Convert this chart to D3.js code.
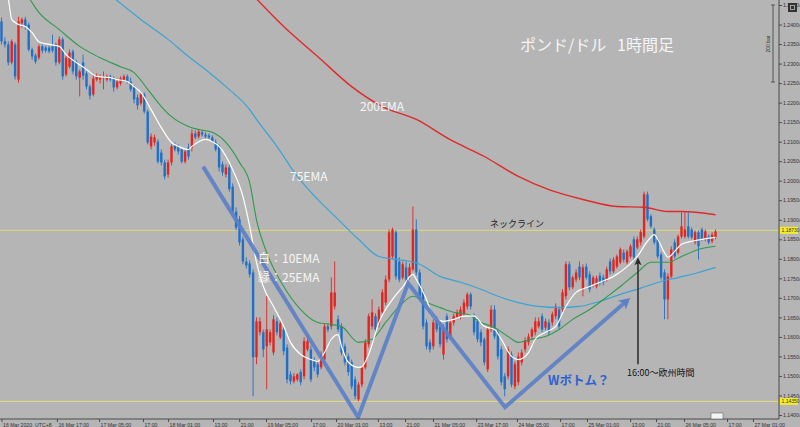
<!DOCTYPE html>
<html>
<head>
<meta charset="utf-8">
<script src="https://cdn.jsdelivr.net/npm/d3@7"></script>
<style>
  body { margin: 0; background: #b5b5b5; }
  svg { display: block; }
</style>
</head>
<body>
<div id="chart"></div>
<script>
// GBP/USD hourly candles, one row per bar: [open, high, low, close]
const candles = [
  [1.2408,1.2418,1.2349,1.2357],[1.2357,1.2367,1.2341,1.2349],[1.2349,1.2357,1.2295,1.2303],[1.2303,1.2362,1.2298,1.2357],
  [1.2349,1.2354,1.2259,1.2267],[1.2259,1.2420,1.2251,1.2408],[1.2403,1.2418,1.2392,1.2413],[1.2413,1.2420,1.2387,1.2395],
  [1.2400,1.2405,1.2331,1.2336],[1.2336,1.2341,1.2310,1.2318],[1.2321,1.2326,1.2300,1.2305],[1.2315,1.2349,1.2310,1.2344],
  [1.2344,1.2349,1.2326,1.2333],[1.2341,1.2346,1.2328,1.2333],[1.2341,1.2346,1.2326,1.2331],[1.2344,1.2374,1.2328,1.2333],
  [1.2349,1.2354,1.2295,1.2303],[1.2303,1.2369,1.2298,1.2362],[1.2362,1.2367,1.2259,1.2267],[1.2272,1.2321,1.2267,1.2315],
  [1.2292,1.2336,1.2287,1.2328],[1.2331,1.2336,1.2272,1.2280],[1.2305,1.2310,1.2259,1.2267],[1.2264,1.2285,1.2216,1.2280],
  [1.2303,1.2323,1.2259,1.2269],[1.2275,1.2280,1.2234,1.2241],[1.2241,1.2246,1.2208,1.2218],[1.2221,1.2269,1.2216,1.2262],
  [1.2259,1.2275,1.2254,1.2269],[1.2259,1.2272,1.2249,1.2264],[1.2264,1.2280,1.2234,1.2267],[1.2259,1.2272,1.2254,1.2267],
  [1.2267,1.2272,1.2254,1.2259],[1.2262,1.2267,1.2228,1.2239],[1.2239,1.2262,1.2234,1.2254],[1.2249,1.2267,1.2244,1.2262],
  [1.2259,1.2272,1.2254,1.2267],[1.2267,1.2272,1.2249,1.2254],[1.2254,1.2264,1.2228,1.2234],[1.2239,1.2244,1.2198,1.2208],
  [1.2213,1.2221,1.2182,1.2193],[1.2198,1.2228,1.2193,1.2221],[1.2221,1.2226,1.2172,1.2177],[1.2177,1.2182,1.2093,1.2098],
  [1.2088,1.2121,1.2080,1.2113],[1.2098,1.2118,1.2090,1.2111],[1.2100,1.2106,1.2044,1.2049],[1.2072,1.2080,1.2039,1.2047],
  [1.2047,1.2054,1.2003,1.2011],[1.2016,1.2054,1.2008,1.2047],[1.2047,1.2093,1.2039,1.2088],[1.2090,1.2098,1.2075,1.2080],
  [1.2088,1.2093,1.2067,1.2075],[1.2080,1.2085,1.2044,1.2049],[1.2049,1.2080,1.2044,1.2075],[1.2085,1.2095,1.2054,1.2062],
  [1.2085,1.2131,1.2075,1.2121],[1.2121,1.2129,1.2106,1.2111],[1.2113,1.2131,1.2108,1.2126],[1.2124,1.2129,1.2113,1.2118],
  [1.2118,1.2124,1.2108,1.2113],[1.2116,1.2121,1.2106,1.2111],[1.2111,1.2116,1.2098,1.2100],[1.2098,1.2106,1.2075,1.2080],
  [1.2088,1.2093,1.2024,1.2034],[1.2042,1.2049,1.2013,1.2021],[1.2016,1.2042,1.2008,1.2034],[1.2034,1.2042,1.1972,1.1978],
  [1.1985,1.1993,1.1916,1.1921],[1.1921,1.1932,1.1873,1.1880],[1.1901,1.1909,1.1834,1.1842],[1.1850,1.1857,1.1786,1.1793],
  [1.1793,1.1804,1.1775,1.1783],[1.1788,1.1796,1.1752,1.1760],[1.1765,1.1773,1.1448,1.1548],[1.1548,1.1650,1.1530,1.1640],
  [1.1612,1.1650,1.1604,1.1640],[1.1612,1.1619,1.1548,1.1568],[1.1576,1.1704,1.1466,1.1619],[1.1586,1.1619,1.1578,1.1612],
  [1.1560,1.1655,1.1553,1.1645],[1.1640,1.1650,1.1604,1.1612],[1.1599,1.1645,1.1594,1.1635],[1.1619,1.1627,1.1553,1.1563],
  [1.1573,1.1581,1.1481,1.1491],[1.1504,1.1512,1.1478,1.1486],[1.1486,1.1507,1.1481,1.1499],[1.1491,1.1507,1.1486,1.1504],
  [1.1510,1.1517,1.1476,1.1484],[1.1499,1.1599,1.1491,1.1589],[1.1568,1.1604,1.1563,1.1589],[1.1568,1.1578,1.1484,1.1491],
  [1.1537,1.1548,1.1512,1.1522],[1.1530,1.1537,1.1496,1.1504],[1.1522,1.1563,1.1517,1.1555],[1.1542,1.1635,1.1537,1.1627],
  [1.1627,1.1635,1.1612,1.1619],[1.1627,1.1752,1.1619,1.1714],[1.1678,1.1793,1.1670,1.1714],[1.1645,1.1655,1.1612,1.1619],
  [1.1627,1.1635,1.1553,1.1560],[1.1576,1.1583,1.1527,1.1535],[1.1550,1.1558,1.1501,1.1510],[1.1535,1.1542,1.1466,1.1473],
  [1.1491,1.1499,1.1440,1.1448],[1.1440,1.1484,1.1435,1.1478],[1.1478,1.1527,1.1471,1.1522],[1.1522,1.1594,1.1517,1.1586],
  [1.1581,1.1660,1.1573,1.1653],[1.1627,1.1696,1.1619,1.1663],[1.1653,1.1660,1.1612,1.1619],[1.1632,1.1678,1.1624,1.1670],
  [1.1663,1.1722,1.1655,1.1714],[1.1688,1.1757,1.1681,1.1747],[1.1747,1.1875,1.1740,1.1868],[1.1806,1.1880,1.1798,1.1875],
  [1.1868,1.1873,1.1747,1.1755],[1.1793,1.1804,1.1740,1.1747],[1.1752,1.1793,1.1747,1.1786],[1.1778,1.1793,1.1740,1.1747],
  [1.1755,1.1788,1.1747,1.1778],[1.1773,1.1934,1.1768,1.1875],[1.1875,1.1901,1.1757,1.1765],[1.1765,1.1773,1.1696,1.1704],
  [1.1714,1.1722,1.1619,1.1627],[1.1637,1.1645,1.1568,1.1576],[1.1586,1.1594,1.1560,1.1568],[1.1576,1.1645,1.1568,1.1637],
  [1.1645,1.1653,1.1612,1.1619],[1.1627,1.1640,1.1573,1.1581],[1.1555,1.1632,1.1542,1.1619],[1.1653,1.1660,1.1586,1.1594],
  [1.1601,1.1645,1.1594,1.1637],[1.1637,1.1660,1.1629,1.1653],[1.1650,1.1670,1.1645,1.1663],[1.1650,1.1678,1.1645,1.1670],
  [1.1658,1.1696,1.1653,1.1688],[1.1678,1.1714,1.1670,1.1709],[1.1709,1.1714,1.1670,1.1678],[1.1653,1.1660,1.1604,1.1612],
  [1.1640,1.1645,1.1586,1.1594],[1.1612,1.1619,1.1576,1.1586],[1.1594,1.1599,1.1527,1.1535],[1.1517,1.1627,1.1510,1.1619],
  [1.1619,1.1681,1.1612,1.1670],[1.1670,1.1681,1.1594,1.1601],[1.1612,1.1619,1.1542,1.1550],[1.1568,1.1576,1.1476,1.1484],
  [1.1499,1.1507,1.1448,1.1466],[1.1499,1.1576,1.1491,1.1568],[1.1555,1.1563,1.1471,1.1478],[1.1473,1.1537,1.1466,1.1530],
  [1.1484,1.1560,1.1476,1.1550],[1.1535,1.1568,1.1527,1.1560],[1.1568,1.1599,1.1560,1.1591],[1.1586,1.1609,1.1578,1.1601],
  [1.1601,1.1624,1.1594,1.1619],[1.1612,1.1650,1.1604,1.1640],[1.1627,1.1650,1.1622,1.1640],[1.1653,1.1660,1.1612,1.1619],
  [1.1624,1.1647,1.1617,1.1640],[1.1637,1.1645,1.1604,1.1612],[1.1637,1.1665,1.1629,1.1658],[1.1653,1.1686,1.1645,1.1678],
  [1.1670,1.1678,1.1619,1.1627],[1.1670,1.1722,1.1663,1.1714],[1.1704,1.1793,1.1696,1.1786],[1.1786,1.1793,1.1719,1.1727],
  [1.1727,1.1757,1.1722,1.1752],[1.1747,1.1773,1.1740,1.1765],[1.1780,1.1793,1.1745,1.1752],[1.1722,1.1786,1.1704,1.1778],
  [1.1780,1.1788,1.1747,1.1752],[1.1760,1.1768,1.1714,1.1722],[1.1732,1.1757,1.1727,1.1752],[1.1729,1.1757,1.1724,1.1750],
  [1.1757,1.1765,1.1732,1.1740],[1.1752,1.1760,1.1732,1.1740],[1.1747,1.1780,1.1742,1.1773],[1.1793,1.1801,1.1760,1.1768],
  [1.1768,1.1804,1.1763,1.1798],[1.1780,1.1811,1.1775,1.1806],[1.1791,1.1829,1.1786,1.1824],[1.1816,1.1824,1.1791,1.1798],
  [1.1791,1.1824,1.1786,1.1819],[1.1806,1.1837,1.1801,1.1832],[1.1850,1.1857,1.1793,1.1804],[1.1829,1.1857,1.1824,1.1850],
  [1.1842,1.1875,1.1834,1.1868],[1.1857,1.1972,1.1852,1.1965],[1.1965,1.1972,1.1896,1.1901],[1.1909,1.1914,1.1878,1.1883],
  [1.1875,1.1880,1.1837,1.1842],[1.1850,1.1855,1.1801,1.1806],[1.1811,1.1816,1.1747,1.1752],[1.1765,1.1773,1.1645,1.1696],
  [1.1696,1.1763,1.1645,1.1755],[1.1755,1.1832,1.1750,1.1824],[1.1842,1.1850,1.1801,1.1806],[1.1816,1.1862,1.1811,1.1857],
  [1.1857,1.1919,1.1852,1.1883],[1.1857,1.1919,1.1852,1.1875],[1.1883,1.1919,1.1852,1.1857],[1.1875,1.1880,1.1850,1.1855],
  [1.1842,1.1873,1.1837,1.1868],[1.1868,1.1873,1.1798,1.1832],[1.1875,1.1880,1.1845,1.1850],[1.1850,1.1875,1.1845,1.1870],
  [1.1857,1.1862,1.1837,1.1842],[1.1845,1.1868,1.1840,1.1862],[1.1855,1.1875,1.1850,1.1870]
];

// moving averages: [bar, price]
const ema10 = [[0,1.2490],[2,1.2464],[3,1.2413],[5,1.2400],[7,1.2395],[9,1.2379],[11,1.2356],[14,1.2349],[17,1.2344],
  [19,1.2323],[22,1.2303],[25,1.2285],[28,1.2267],[32,1.2264],[34,1.2259],[37,1.2254],[39,1.2241],[41,1.2226],[44,1.2182],
  [47,1.2136],[50,1.2098],[52,1.2088],[55,1.2080],[56,1.2088],[58,1.2100],[60,1.2106],[62,1.2100],[64,1.2088],[68,1.2028],
  [71,1.1960],[73,1.1883],[75,1.1791],[77,1.1729],[80,1.1678],[83,1.1627],[85,1.1586],[88,1.1555],[91,1.1542],[93,1.1537],
  [95,1.1560],[97,1.1594],[99,1.1606],[100,1.1576],[102,1.1535],[105,1.1522],[106,1.1524],[108,1.1555],[111,1.1637],
  [115,1.1696],[118,1.1728],[121,1.1760],[122,1.1747],[125,1.1696],[127,1.1653],[130,1.1640],[133,1.1645],[136,1.1653],
  [139,1.1653],[142,1.1627],[145,1.1619],[147,1.1594],[150,1.1550],[152,1.1542],[155,1.1560],[157,1.1594],[160,1.1612],
  [163,1.1627],[166,1.1678],[169,1.1714],[173,1.1729],[176,1.1740],[180,1.1755],[184,1.1780],[187,1.1806],[190,1.1845],
  [192,1.1862],[193,1.1850],[195,1.1816],[196,1.1804],[198,1.1819],[200,1.1837],[203,1.1845],[206,1.1850],[210,1.1855]];
const ema25 = [[7,1.2484],[11,1.2431],[17,1.2387],[23,1.2344],[29,1.2315],[35,1.2292],[39,1.2277],[43,1.2234],[47,1.2190],
  [50,1.2164],[55,1.2139],[58,1.2131],[62,1.2124],[66,1.2098],[70,1.2047],[73,1.1995],[75,1.1900],[78,1.1816],[83,1.1729],
  [88,1.1670],[93,1.1637],[97,1.1632],[100,1.1627],[105,1.1586],[109,1.1594],[113,1.1637],[117,1.1678],[121,1.1704],
  [125,1.1688],[129,1.1675],[133,1.1663],[137,1.1658],[141,1.1637],[145,1.1624],[149,1.1601],[152,1.1586],[156,1.1594],
  [160,1.1601],[164,1.1619],[168,1.1645],[173,1.1670],[179,1.1709],[182,1.1729],[187,1.1765],[191,1.1791],[196,1.1791],
  [200,1.1806],[205,1.1824],[210,1.1832]];
const ema75 = [[30,1.2490],[41,1.2413],[49,1.2362],[55,1.2318],[60,1.2285],[66,1.2241],[73,1.2182],[75,1.2157],[81,1.2088],
  [87,1.2011],[93,1.1952],[99,1.1901],[105,1.1850],[111,1.1806],[117,1.1798],[123,1.1786],[129,1.1755],[135,1.1740],
  [141,1.1722],[146,1.1704],[152,1.1688],[158,1.1678],[164,1.1675],[170,1.1678],[176,1.1691],[182,1.1709],[188,1.1725],
  [194,1.1742],[199,1.1752],[205,1.1765],[210,1.1778]];
const ema200 = [[73,1.2484],[83,1.2395],[93,1.2318],[103,1.2241],[112,1.2190],[122,1.2157],[132,1.2105],[142,1.2062],
  [152,1.2011],[161,1.1977],[171,1.1952],[181,1.1934],[189,1.1932],[196,1.1921],[200,1.1921],[210,1.1913]];

// drawn annotations: W pattern path, neckline / support levels, 16:00 marker
const wPattern = [[59.3,1.2036],[104.9,1.1394],[119.6,1.1737],[148.1,1.1420],[184,1.1693]];
const neckline = 1.1873;
const support = 1.1435;
const europeOpen = [187.2, 1.1530, 1.1804];

const priceTicks = [1.1400,1.1450,1.1500,1.1550,1.1600,1.1650,1.1700,1.1750,1.1800,1.1850,1.1900,1.1950,
  1.2000,1.2050,1.2100,1.2150,1.2200,1.2250,1.2300,1.2350,1.2400,1.2450];
const timeLabels = [[0,'16 Mar 2020, UTC+8'],[16.3,'16 Mar 17:00'],[28.7,'17 Mar 05:00'],[41.6,'17:00'],[49,'18 Mar 01:00'],
  [62.2,'13:00'],[69.9,'21:00'],[77.8,'19 Mar 05:00'],[91,'17:00'],[98.4,'20 Mar 01:00'],[110.7,'13:00'],[118.7,'21:00'],
  [126.9,'21 Mar 05:00'],[139.6,'23 Mar 17:00'],[151.6,'24 Mar 05:00'],[164.3,'17:00'],[172.2,'25 Mar 01:00'],
  [184.9,'13:00'],[192.5,'21:00'],[200.7,'26 Mar 05:00'],[213.4,'17:00'],[221,'27 Mar 01:00']];

const width = 800, height = 427;
const plotRight = 779, plotBottom = 419;
const upColor = '#e3241f', downColor = '#1f6fc6';

const x = d3.scaleLinear().domain([0, 210]).range([1.5, 715.5]);
const y = d3.scaleLinear().domain([1.14, 1.245]).range([415, 5]);

const svg = d3.select('#chart').append('svg')
    .attr('width', width)
    .attr('height', height)
    .style('font-family', "'Noto Sans CJK JP', 'Noto Sans', sans-serif");

svg.append('rect').attr('width', width).attr('height', height).attr('fill', '#b5b5b5');

svg.append('defs').append('clipPath').attr('id', 'plot-clip')
  .append('rect').attr('width', plotRight).attr('height', plotBottom);

const plot = svg.append('g').attr('clip-path', 'url(#plot-clip)');

// horizontal levels
plot.selectAll('line.level')
  .data([neckline, support])
  .join('line')
    .attr('class', 'level')
    .attr('x1', 0).attr('x2', plotRight)
    .attr('y1', d => y(d)).attr('y2', d => y(d))
    .attr('stroke', '#e2dc78')
    .attr('stroke-width', 1);

// candles
const bodyWidth = 2.4;
const isUp = d => d[3] >= d[0];
const candleG = plot.append('g').attr('class', 'candles');

candleG.selectAll('line')
  .data(candles)
  .join('line')
    .attr('x1', (d, i) => x(i)).attr('x2', (d, i) => x(i))
    .attr('y1', d => y(d[1])).attr('y2', d => y(d[2]))
    .attr('stroke', d => isUp(d) ? upColor : downColor)
    .attr('stroke-width', 0.9);

candleG.selectAll('rect')
  .data(candles)
  .join('rect')
    .attr('x', (d, i) => x(i) - bodyWidth / 2)
    .attr('width', bodyWidth)
    .attr('y', d => y(Math.max(d[0], d[3])))
    .attr('height', d => Math.max(1, Math.abs(y(d[0]) - y(d[3]))))
    .attr('fill', d => isUp(d) ? upColor : downColor);

// moving averages
const emaLine = d3.line()
    .x(d => x(d[0]))
    .y(d => y(d[1]))
    .curve(d3.curveMonotoneX);

const emas = [
  { data: ema200, color: '#e02a2a', w: 1.4 },
  { data: ema75, color: '#3aa3d6', w: 1.2 },
  { data: ema25, color: '#2f9a4c', w: 1.1 },
  { data: ema10, color: '#ffffff', w: 1.2 }
];
plot.selectAll('path.ema')
  .data(emas)
  .join('path')
    .attr('class', 'ema')
    .attr('d', d => emaLine(d.data))
    .attr('fill', 'none')
    .attr('stroke', d => d.color)
    .attr('stroke-width', d => d.w);

// W pattern sketch
const wLine = d3.line().x(d => x(d[0])).y(d => y(d[1]));
plot.append('path')
    .attr('d', wLine(wPattern))
    .attr('fill', 'none')
    .attr('stroke', '#5a80c8')
    .attr('stroke-opacity', 0.9)
    .attr('stroke-width', 4)
    .attr('stroke-linejoin', 'miter');

// arrow head at the end of the W sketch
const last = wPattern[wPattern.length - 1], prev = wPattern[wPattern.length - 2];
const ang = Math.atan2(y(last[1]) - y(prev[1]), x(last[0]) - x(prev[0])) * 180 / Math.PI;
plot.append('path')
    .attr('d', 'M4,0 L-7,-6 L-4,0 L-7,6 Z')
    .attr('transform', `translate(${x(last[0])},${y(last[1])}) rotate(${ang})`)
    .attr('fill', '#5a80c8');

// 16:00 marker arrow
plot.append('line')
    .attr('x1', x(europeOpen[0])).attr('x2', x(europeOpen[0]))
    .attr('y1', y(europeOpen[1])).attr('y2', y(europeOpen[2]) + 3)
    .attr('stroke', '#2a2a2a')
    .attr('stroke-width', 1.5);
plot.append('path')
    .attr('d', 'M0,0 L-3.5,8 L0,6 L3.5,8 Z')
    .attr('transform', `translate(${x(europeOpen[0])},${y(europeOpen[2])})`)
    .attr('fill', '#2a2a2a');

// text annotations
const notes = [
  { t: 'ポンド/ドル\u00a0\u00a0\u00a01時間足', x: 520, y: 51, size: 16, fill: '#f6f6f6' },
  { t: '200EMA', x: 360, y: 111, size: 12, fill: '#f6f6f6' },
  { t: '75EMA', x: 290, y: 181, size: 12, fill: '#f6f6f6' },
  { t: '白：10EMA', x: 258, y: 263, size: 12, fill: '#f6f6f6' },
  { t: '緑：25EMA', x: 258, y: 282, size: 12, fill: '#f6f6f6' },
  { t: 'ネックライン', x: 490, y: 227, size: 9, fill: '#222' },
  { t: 'Wボトム？', x: 548, y: 385, size: 12.5, fill: '#2f62d0', weight: 'bold' },
  { t: '16:00～欧州時間', x: 627, y: 376, size: 9, fill: '#111' }
];
svg.selectAll('text.note')
  .data(notes)
  .join('text')
    .attr('class', 'note')
    .attr('x', d => d.x).attr('y', d => d.y)
    .attr('font-size', d => d.size)
    .attr('font-weight', d => d.weight || 'normal')
    .attr('fill', d => d.fill)
    .text(d => d.t);

// axes
const axisColor = '#4a4a4a';
const tickFont = "'Liberation Sans', Arial, sans-serif";

const yAxis = svg.append('g')
    .attr('transform', `translate(${plotRight},0)`)
    .call(d3.axisRight(y).tickValues(priceTicks).tickSize(3).tickPadding(1));
yAxis.select('.domain').remove();
yAxis.selectAll('.tick line').attr('stroke', axisColor);
yAxis.selectAll('.tick text')
    .attr('fill', '#333')
    .attr('font-size', 5.2)
    .attr('font-family', tickFont)
    .each(function(d) {
      const t = d3.select(this).text(null);
      t.append('tspan').text(d.toFixed(4));
      t.append('tspan').attr('font-size', 3.8).text('0');
    });

const xAxis = svg.append('g')
    .attr('transform', `translate(0,${plotBottom})`)
    .call(d3.axisBottom(x)
      .tickValues(timeLabels.map(d => d[0]))
      .tickFormat((d, i) => timeLabels[i][1])
      .tickSize(3)
      .tickPadding(1));
xAxis.select('.domain').remove();
xAxis.selectAll('.tick line').attr('stroke', axisColor);
xAxis.selectAll('.tick text')
    .attr('fill', '#333')
    .attr('font-size', 5.2)
    .attr('font-family', tickFont)
    .attr('text-anchor', 'start')
    .attr('dx', 1);

svg.append('line')
    .attr('x1', plotRight).attr('x2', plotRight)
    .attr('y1', 0).attr('y2', plotBottom)
    .attr('stroke', axisColor);
svg.append('line')
    .attr('x1', 0).attr('x2', plotRight)
    .attr('y1', plotBottom).attr('y2', plotBottom)
    .attr('stroke', axisColor);

// price boxes for the two levels
const boxes = svg.selectAll('g.pricebox')
  .data([neckline, support])
  .join('g')
    .attr('class', 'pricebox')
    .attr('transform', d => `translate(${plotRight + 1},${y(d)})`);
boxes.append('rect')
    .attr('x', 0).attr('y', -3.5)
    .attr('width', 18).attr('height', 7)
    .attr('fill', '#f2ee2a');
boxes.append('text')
    .attr('x', 1.5).attr('y', 2)
    .attr('font-size', 5)
    .attr('font-family', tickFont)
    .attr('fill', '#333')
    .text(d => d.toFixed(5));

// "200 bar" scale marker and corner icon
const barScale = svg.append('g');
barScale.append('line').attr('x1', 773).attr('x2', 773).attr('y1', 5).attr('y2', 82).attr('stroke', '#555');
barScale.selectAll('line.cap').data([5, 82]).join('line')
    .attr('class', 'cap')
    .attr('x1', 771).attr('x2', 775).attr('y1', d => d).attr('y2', d => d)
    .attr('stroke', '#555');
barScale.append('text')
    .attr('transform', 'translate(770,44) rotate(-90)')
    .attr('text-anchor', 'middle')
    .attr('font-size', 5)
    .attr('font-family', tickFont)
    .attr('fill', '#333')
    .text('200 bar');

svg.append('rect').attr('x', 788).attr('y', 3).attr('width', 9).attr('height', 9).attr('fill', '#333');
svg.append('rect').attr('x', 790.5).attr('y', 5.5).attr('width', 4).attr('height', 4)
    .attr('fill', 'none').attr('stroke', '#bbb').attr('stroke-width', 0.8);

// shift marker on the time axis
svg.append('rect').attr('x', 711).attr('y', 413).attr('width', 12).attr('height', 6)
    .attr('fill', '#f4f4f4').attr('stroke', '#666').attr('stroke-width', 0.6);
</script>
</body>
</html>
